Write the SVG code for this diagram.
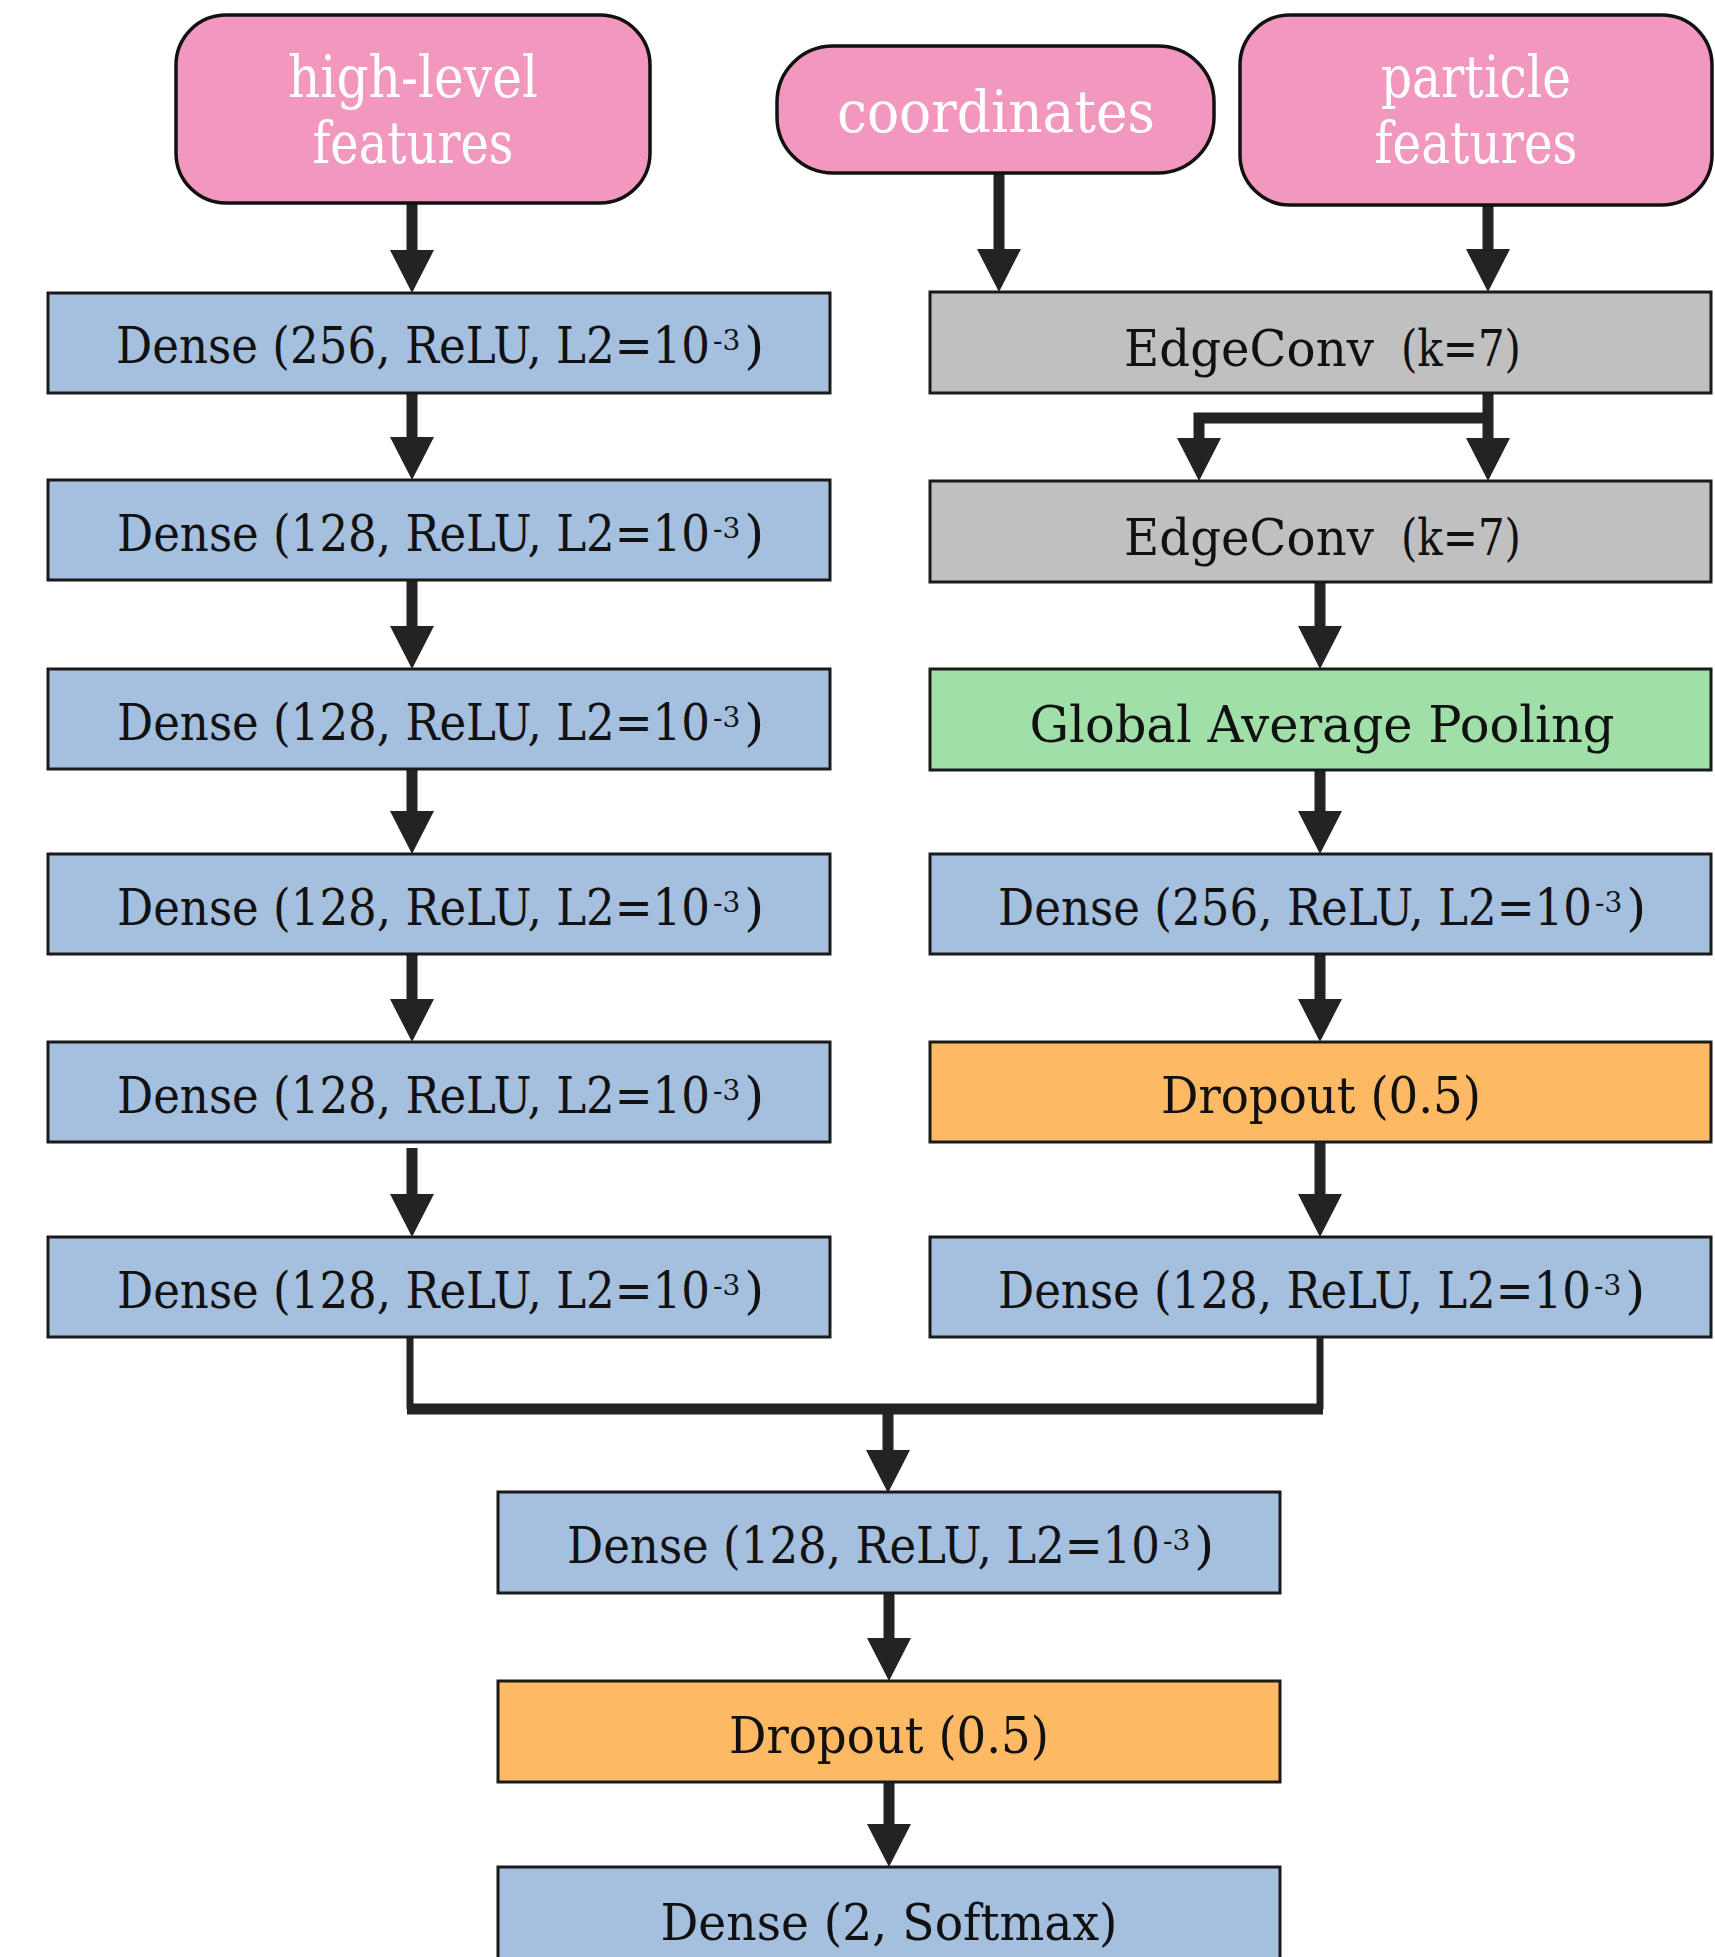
<svg xmlns="http://www.w3.org/2000/svg" width="1715" height="1957" viewBox="0 0 1715 1957">
<style>
  .box { stroke: #1a1a1a; stroke-width: 3; }
  .pink { fill: #f298be; stroke: #111; stroke-width: 3.5; }
  .blue { fill: #a5bfde; }
  .gray { fill: #c0c0c0; }
  .green { fill: #a0dfa8; }
  .orange { fill: #fdb964; }
  .lbl { font-family: "DejaVu Serif", "Liberation Serif", serif; font-size: 51px; fill: #111; }
  .sup { font-size: 28px; }
  .plbl { font-family: "DejaVu Serif", "Liberation Serif", serif; font-size: 57px; fill: #ffffff; text-anchor: middle; }
  .mid { text-anchor: middle; }
  .line { fill: none; stroke: #232323; stroke-width: 11; }
  .thin { fill: none; stroke: #232323; stroke-width: 7; }
  .head { fill: #232323; }
</style>
<rect width="1715" height="1957" fill="#ffffff"/>

<g id="connectors">
  <path class="line" d="M412 203 V252"/>
  <polygon class="head" points="390,250 434,250 412,293"/>
  <path class="line" d="M412 393 V439"/>
  <polygon class="head" points="390,437 434,437 412,480"/>
  <path class="line" d="M412 580 V628"/>
  <polygon class="head" points="390,626 434,626 412,669"/>
  <path class="line" d="M412 769 V813"/>
  <polygon class="head" points="390,811 434,811 412,854"/>
  <path class="line" d="M412 954 V1001"/>
  <polygon class="head" points="390,999 434,999 412,1042"/>
  <path class="line" d="M412 1148 V1196"/>
  <polygon class="head" points="390,1194 434,1194 412,1237"/>
  <path class="line" d="M999 173 V251"/>
  <polygon class="head" points="977,249 1021,249 999,292"/>
  <path class="line" d="M1488 205 V251"/>
  <polygon class="head" points="1466,249 1510,249 1488,292"/>
  <path class="line" d="M1488 393 V440"/>
  <polygon class="head" points="1466,438 1510,438 1488,481"/>
  <path class="line" d="M1493 418 H1199 V440"/>
  <polygon class="head" points="1177,438 1221,438 1199,481"/>
  <path class="line" d="M1320 582 V628"/>
  <polygon class="head" points="1298,626 1342,626 1320,669"/>
  <path class="line" d="M1320 770 V813"/>
  <polygon class="head" points="1298,811 1342,811 1320,854"/>
  <path class="line" d="M1320 954 V1001"/>
  <polygon class="head" points="1298,999 1342,999 1320,1042"/>
  <path class="line" d="M1320 1142 V1196"/>
  <polygon class="head" points="1298,1194 1342,1194 1320,1237"/>
  <path class="thin" d="M410 1337 V1409"/>
  <path class="thin" d="M1320 1337 V1409"/>
  <path class="line" d="M407 1409 H1323"/>
  <path class="line" d="M888 1409 V1452"/>
  <polygon class="head" points="866,1450 910,1450 888,1493"/>
  <path class="line" d="M889 1593 V1640"/>
  <polygon class="head" points="867,1638 911,1638 889,1681"/>
  <path class="line" d="M889 1782 V1826"/>
  <polygon class="head" points="867,1824 911,1824 889,1867"/>
</g>

<g id="in-highlevel">
  <rect class="pink" x="176" y="15" width="474" height="188" rx="50"/>
  <text class="plbl" x="413" y="97" textLength="250" lengthAdjust="spacingAndGlyphs">high-level</text>
  <text class="plbl" x="413" y="163" textLength="201" lengthAdjust="spacingAndGlyphs">features</text>
</g>
<g id="in-coordinates">
  <rect class="pink" x="777" y="46" width="437" height="127" rx="56"/>
  <text class="plbl" x="996" y="132" textLength="318" lengthAdjust="spacingAndGlyphs">coordinates</text>
</g>
<g id="in-particle">
  <rect class="pink" x="1240" y="15" width="472" height="190" rx="50"/>
  <text class="plbl" x="1476" y="97" textLength="190" lengthAdjust="spacingAndGlyphs">particle</text>
  <text class="plbl" x="1476" y="163" textLength="203" lengthAdjust="spacingAndGlyphs">features</text>
</g>

<g id="left-dense-256">
  <rect class="box blue" x="48" y="293" width="782" height="100"/>
  <text class="lbl" x="116" y="363"><tspan textLength="594" lengthAdjust="spacingAndGlyphs">Dense (256, ReLU, L2=10</tspan><tspan class="sup" dx="3" dy="-13">-3</tspan><tspan dx="4" dy="13">)</tspan></text>
</g>
<g id="left-dense-128-a">
  <rect class="box blue" x="48" y="480" width="782" height="100"/>
  <text class="lbl" x="117" y="551"><tspan textLength="593" lengthAdjust="spacingAndGlyphs">Dense (128, ReLU, L2=10</tspan><tspan class="sup" dx="3" dy="-13">-3</tspan><tspan dx="4" dy="13">)</tspan></text>
</g>
<g id="left-dense-128-b">
  <rect class="box blue" x="48" y="669" width="782" height="100"/>
  <text class="lbl" x="117" y="740"><tspan textLength="593" lengthAdjust="spacingAndGlyphs">Dense (128, ReLU, L2=10</tspan><tspan class="sup" dx="3" dy="-13">-3</tspan><tspan dx="4" dy="13">)</tspan></text>
</g>
<g id="left-dense-128-c">
  <rect class="box blue" x="48" y="854" width="782" height="100"/>
  <text class="lbl" x="117" y="925"><tspan textLength="593" lengthAdjust="spacingAndGlyphs">Dense (128, ReLU, L2=10</tspan><tspan class="sup" dx="3" dy="-13">-3</tspan><tspan dx="4" dy="13">)</tspan></text>
</g>
<g id="left-dense-128-d">
  <rect class="box blue" x="48" y="1042" width="782" height="100"/>
  <text class="lbl" x="117" y="1113"><tspan textLength="593" lengthAdjust="spacingAndGlyphs">Dense (128, ReLU, L2=10</tspan><tspan class="sup" dx="3" dy="-13">-3</tspan><tspan dx="4" dy="13">)</tspan></text>
</g>
<g id="left-dense-128-e">
  <rect class="box blue" x="48" y="1237" width="782" height="100"/>
  <text class="lbl" x="117" y="1308"><tspan textLength="593" lengthAdjust="spacingAndGlyphs">Dense (128, ReLU, L2=10</tspan><tspan class="sup" dx="3" dy="-13">-3</tspan><tspan dx="4" dy="13">)</tspan></text>
</g>

<g id="edgeconv-1">
  <rect class="box gray" x="930" y="292" width="781" height="101"/>
  <text class="lbl" y="366"><tspan x="1124" textLength="250" lengthAdjust="spacingAndGlyphs">EdgeConv</tspan><tspan x="1401" textLength="120" lengthAdjust="spacingAndGlyphs">(k=7)</tspan></text>
</g>
<g id="edgeconv-2">
  <rect class="box gray" x="930" y="481" width="781" height="101"/>
  <text class="lbl" y="555"><tspan x="1124" textLength="250" lengthAdjust="spacingAndGlyphs">EdgeConv</tspan><tspan x="1401" textLength="120" lengthAdjust="spacingAndGlyphs">(k=7)</tspan></text>
</g>
<g id="global-avg-pool">
  <rect class="box green" x="930" y="669" width="781" height="101"/>
  <text class="lbl mid" x="1322" y="742" textLength="585" lengthAdjust="spacingAndGlyphs">Global Average Pooling</text>
</g>
<g id="right-dense-256">
  <rect class="box blue" x="930" y="854" width="781" height="100"/>
  <text class="lbl" x="998" y="925"><tspan textLength="594" lengthAdjust="spacingAndGlyphs">Dense (256, ReLU, L2=10</tspan><tspan class="sup" dx="3" dy="-13">-3</tspan><tspan dx="4" dy="13">)</tspan></text>
</g>
<g id="right-dropout">
  <rect class="box orange" x="930" y="1042" width="781" height="100"/>
  <text class="lbl mid" x="1321" y="1113" textLength="320" lengthAdjust="spacingAndGlyphs">Dropout (0.5)</text>
</g>
<g id="right-dense-128">
  <rect class="box blue" x="930" y="1237" width="781" height="100"/>
  <text class="lbl" x="998" y="1308"><tspan textLength="593" lengthAdjust="spacingAndGlyphs">Dense (128, ReLU, L2=10</tspan><tspan class="sup" dx="3" dy="-13">-3</tspan><tspan dx="4" dy="13">)</tspan></text>
</g>

<g id="merged-dense-128">
  <rect class="box blue" x="498" y="1492" width="782" height="101"/>
  <text class="lbl" x="567" y="1563"><tspan textLength="593" lengthAdjust="spacingAndGlyphs">Dense (128, ReLU, L2=10</tspan><tspan class="sup" dx="3" dy="-13">-3</tspan><tspan dx="4" dy="13">)</tspan></text>
</g>
<g id="merged-dropout">
  <rect class="box orange" x="498" y="1681" width="782" height="101"/>
  <text class="lbl mid" x="889" y="1753" textLength="320" lengthAdjust="spacingAndGlyphs">Dropout (0.5)</text>
</g>
<g id="output-dense">
  <rect class="box blue" x="498" y="1867" width="782" height="101"/>
  <text class="lbl mid" x="889" y="1940" textLength="457" lengthAdjust="spacingAndGlyphs">Dense (2, Softmax)</text>
</g>
</svg>
